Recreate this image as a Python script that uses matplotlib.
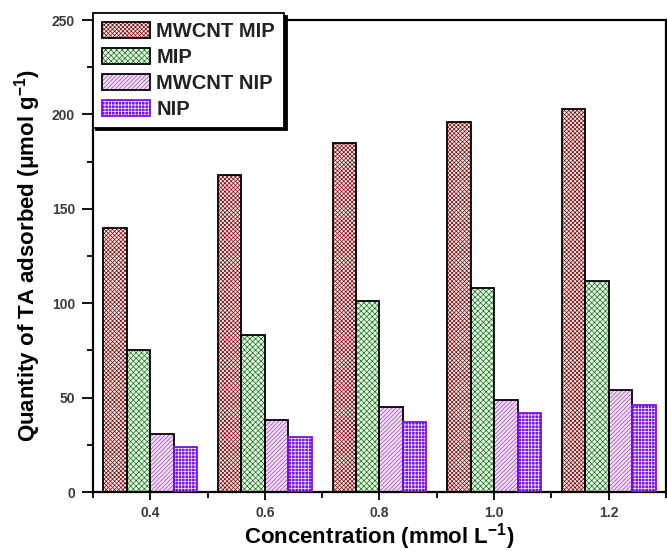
import numpy as np
from matplotlib import pyplot as plt
from matplotlib.patches import Patch

# Data
concentration = [0.4, 0.6, 0.8, 1.0, 1.2]
mwcntMip = [140, 168, 185, 196, 203]
mip = [75, 83, 101, 108, 112]
mwcntNip = [31, 38, 45, 49, 54]
nip = [24, 29, 37, 42, 46]

seriesNames = ["MWCNT MIP", "MIP", "MWCNT NIP", "NIP"]

plt.rcParams['font.family'] = ['Liberation Sans', 'DejaVu Sans']
plt.rcParams['font.weight'] = 'bold'
plt.rcParams['mathtext.fontset'] = 'custom'
plt.rcParams['mathtext.rm'] = 'Liberation Sans:bold'
plt.rcParams['mathtext.bf'] = 'Liberation Sans:bold'
plt.rcParams['mathtext.default'] = 'bf'
plt.rcParams['hatch.linewidth'] = 0.5

# Face colour, hatch colour, hatch, outline colour for each series
styles = [
    ("#fbeeee", "#7a0808", "xxxxxxxx", "black"),
    ("#e6f9e6", "#1a701a", "xxxxxx", "black"),
    ("#f3e0f8", "#9b3fb5", "////////", "black"),
    ("#7d10ee", "white", "+++++", "#7d10ee"),
]

fig = plt.figure(figsize=(6.67, 5.51), dpi=100)
ax = fig.add_axes([0.1394, 0.107, 0.8591, 0.8567])

width = 0.041
x = np.array(concentration)
handles = []
for i, values in enumerate([mwcntMip, mip, mwcntNip, nip]):
    face, hatchColor, hatch, edge = styles[i]
    pos = x + (i - 1.5) * width
    ax.bar(pos, values, width, color=face, edgecolor=hatchColor,
           hatch=hatch, linewidth=0, zorder=2)
    ax.bar(pos, values, width, fill=False, edgecolor=edge,
           linewidth=1.3, zorder=3)
    handles.append((Patch(facecolor=face, edgecolor=hatchColor,
                          hatch=hatch, linewidth=0),
                    Patch(fill=False, edgecolor=edge, linewidth=1.3)))

# Axes limits and ticks
ax.set_xlim(0.3, 1.3)
ax.set_ylim(0, 250)
ax.set_xticks(concentration)
ax.set_xticklabels(["0.4", "0.6", "0.8", "1.0", "1.2"])
ax.set_xticks(np.arange(0.3, 1.31, 0.2), minor=True)
ax.set_yticks(np.arange(0, 251, 50))
ax.set_yticks(np.arange(25, 250, 50), minor=True)
ax.tick_params(which='both', direction='out', width=1.3,
               labelsize=10, labelcolor='#3a3a3a', top=False, right=False)
ax.tick_params(axis='x', which='major', length=6, pad=4)
ax.tick_params(axis='y', which='major', length=8, pad=5)
ax.tick_params(which='minor', length=4)
for spine in ax.spines.values():
    spine.set_linewidth(1.6)

ax.set_xlabel("Concentration (mmol L$^{-1}$)", fontsize=16,
              fontweight='bold', labelpad=1)
ax.set_ylabel("Quantity of TA adsorbed (\u03bcmol g$^{-1}$)", fontsize=16,
              fontweight='bold', labelpad=6)

leg = ax.legend(handles, seriesNames, loc='upper left',
                bbox_to_anchor=(0.0, 1.015), borderaxespad=0,
                fontsize=14.5, handlelength=2.4, handleheight=0.85,
                handletextpad=0.3, labelspacing=0.34, borderpad=0.45,
                fancybox=False, framealpha=1,
                shadow={'color': 'black', 'alpha': 1})
leg.get_frame().set_edgecolor('black')
leg.get_frame().set_linewidth(1.3)
for text in leg.get_texts():
    text.set_color('#222222')
leg.set_zorder(5)

plt.savefig("out.png", dpi=100)
